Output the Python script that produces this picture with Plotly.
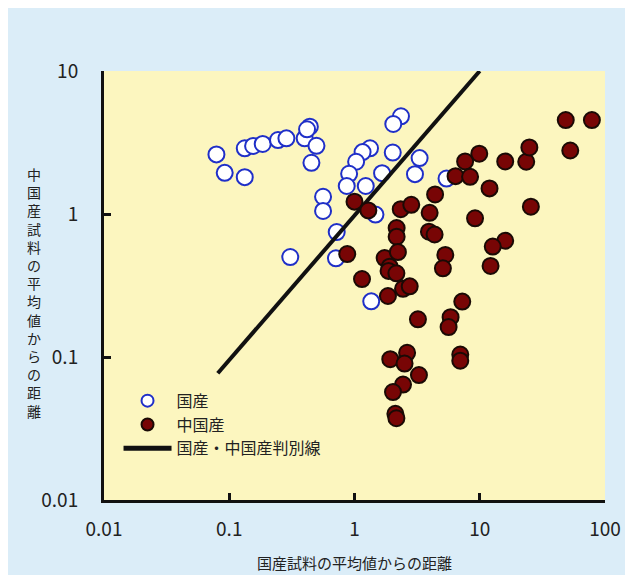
import plotly.graph_objects as go

# ---- data ----
domestic_x = [0.079, 0.092, 0.133, 0.133, 0.155, 0.185, 0.245, 0.286, 0.40, 0.44, 0.418,
              0.497, 0.453, 0.561, 0.561, 0.721, 0.307, 0.711,
              2.35, 2.04, 1.33, 1.16, 1.03, 2.02, 3.31, 3.04, 1.66, 0.906, 0.867, 1.23,
              5.43, 1.47, 1.36]
domestic_y = [2.61, 1.94, 1.81, 2.88, 2.99, 3.09, 3.29, 3.38, 3.38, 4.08, 3.91,
              3.00, 2.28, 1.32, 1.05, 0.748, 0.50, 0.49,
              4.82, 4.26, 2.88, 2.71, 2.32, 2.69, 2.46, 1.90, 1.93, 1.91, 1.57, 1.57,
              1.77, 0.99, 0.245]

chinese_x = [1.00, 1.29, 0.875, 1.148, 1.85, 1.74, 1.91, 1.87, 2.16, 2.44, 2.76,
             2.17, 2.17, 2.22, 2.34, 2.84, 3.98, 4.40, 3.93, 4.36, 5.31, 5.08,
             7.25, 3.21, 5.85, 5.64, 1.93, 2.63, 2.51, 3.27, 2.44, 2.03, 2.12, 2.16,
             6.99, 6.99, 9.17, 6.41, 7.64, 8.37, 9.91, 11.97, 15.97, 23.5, 24.9, 25.6,
             15.97, 12.7, 12.2, 48.6, 78.6, 52.8]
chinese_y = [1.22, 1.06, 0.525, 0.351, 0.267, 0.492, 0.428, 0.40, 0.385, 0.30, 0.312,
             0.798, 0.694, 0.542, 1.08, 1.16, 1.02, 1.37, 0.752, 0.719, 0.517, 0.417,
             0.244, 0.1835, 0.19, 0.162, 0.0965, 0.107, 0.090, 0.0748, 0.0642, 0.0569,
             0.0401, 0.0373, 0.104, 0.0942, 0.933, 1.84, 2.33, 1.82, 2.64, 1.51, 2.33,
             2.32, 2.92, 1.125, 0.65, 0.592, 0.433, 4.54, 4.54, 2.78]

line_x = [0.081, 10.0]
line_y = [0.077, 10.0]

x_tickvals = [0.01, 0.1, 1, 10, 100]
x_ticktext = ["0.01", "0.1", "1", "10", "100"]
y_tickvals = [0.01, 0.1, 1, 10]
y_ticktext = ["0.01", "0.1", "1", "10"]

name_domestic = "国産"
name_chinese = "中国産"
name_line = "国産・中国産判別線"
x_title = "国産試料の平均値からの距離"
y_title = "中国産試料の平均値からの距離"

FONT = "Noto Sans CJK JP"
TXT = "#222222"

fig = go.Figure()
fig.add_trace(go.Scatter(
    x=domestic_x, y=domestic_y, mode="markers", name=name_domestic, legendrank=1,
    marker=dict(size=16, color="white", line=dict(color="#1f2fc8", width=2)),
))
fig.add_trace(go.Scatter(
    x=line_x, y=line_y, mode="lines", name=name_line, legendrank=3,
    line=dict(color="#111111", width=4),
))
fig.add_trace(go.Scatter(
    x=chinese_x, y=chinese_y, mode="markers", name=name_chinese, legendrank=2,
    marker=dict(size=16, color="#780505", line=dict(color="#1a0a05", width=2)),
))

annotations = [
    dict(text=x_title, xref="paper", yref="paper", x=0.5, y=(500 - 562) / 429,
         xanchor="center", yanchor="middle", showarrow=False,
         font=dict(family=FONT, size=15, color=TXT)),
    dict(text="<br>".join(list(y_title)), xref="paper", yref="paper",
         x=(34 - 104) / 501, y=(500 - 292) / 429,
         xanchor="center", yanchor="middle", showarrow=False,
         font=dict(family=FONT, size=14, color=TXT)),
]

# page body has an 8px margin, so the figure is drawn 8px smaller
fig.update_layout(
    width=625, height=567,
    margin=dict(l=96, r=28, t=63, b=75),
    paper_bgcolor="#dbedf8",
    plot_bgcolor="#fcf6bf",
    font=dict(family=FONT, size=18, color=TXT),
    showlegend=True,
    legend=dict(
        x=0.029, y=0.271, xanchor="left", yanchor="top",
        bgcolor="rgba(0,0,0,0)", font=dict(family=FONT, size=16, color=TXT),
        itemsizing="constant", itemwidth=48, traceorder="normal",
    ),
    annotations=annotations,
)
fig.update_xaxes(
    type="log", range=[-2, 2], tickvals=x_tickvals, ticktext=x_ticktext,
    showgrid=False, zeroline=False, showline=True, linecolor="#111111", linewidth=3,
    ticks="inside", ticklen=7, tickwidth=3, tickcolor="#111111",
    tickfont=dict(family=FONT, size=19, color=TXT), ticklabelstandoff=10,
)
fig.update_yaxes(
    type="log", range=[-2, 1], tickvals=y_tickvals, ticktext=y_ticktext,
    showgrid=False, zeroline=False, showline=True, linecolor="#111111", linewidth=3,
    ticks="inside", ticklen=7, tickwidth=3, tickcolor="#111111",
    tickfont=dict(family=FONT, size=19, color=TXT), ticklabelstandoff=19,
)

fig.write_html("out.html")
